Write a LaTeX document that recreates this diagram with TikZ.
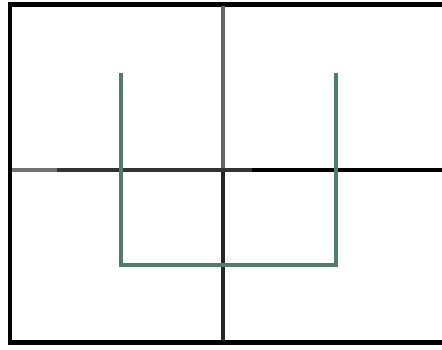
\documentclass[tikz,border=0pt]{standalone}
\definecolor{ugreen}{RGB}{80,125,105}
\begin{document}
\begin{tikzpicture}[x=1pt,y=-1pt,
  frame/.style={draw=black,line width=4.5pt},
  axis/.style={draw=black!85,line width=4pt},
  axislight/.style={draw=black!60,line width=4pt},
  ushape/.style={draw=ugreen,line width=4pt}]
\useasboundingbox (0,0) rectangle (442,349);
\clip (0,0) rectangle (442,349);
\fill[white] (0,0) rectangle (442,349);
\draw[frame] (10,4.5) rectangle (450,342.5);
\draw[axislight] (222.5,6) -- (222.5,169.5);
\draw[axis] (222.5,169.5) -- (222.5,341);
\draw[draw=black!55,line width=4pt] (12,169.5) -- (57,169.5);
\draw[draw=black!80,line width=4pt] (57,169.5) -- (252,169.5);
\draw[draw=black,line width=4pt] (252,169.5) -- (442,169.5);
\draw[ushape] (120.5,73) -- (120.5,264.5) -- (336,264.5) -- (336,73);
\end{tikzpicture}
\end{document}
